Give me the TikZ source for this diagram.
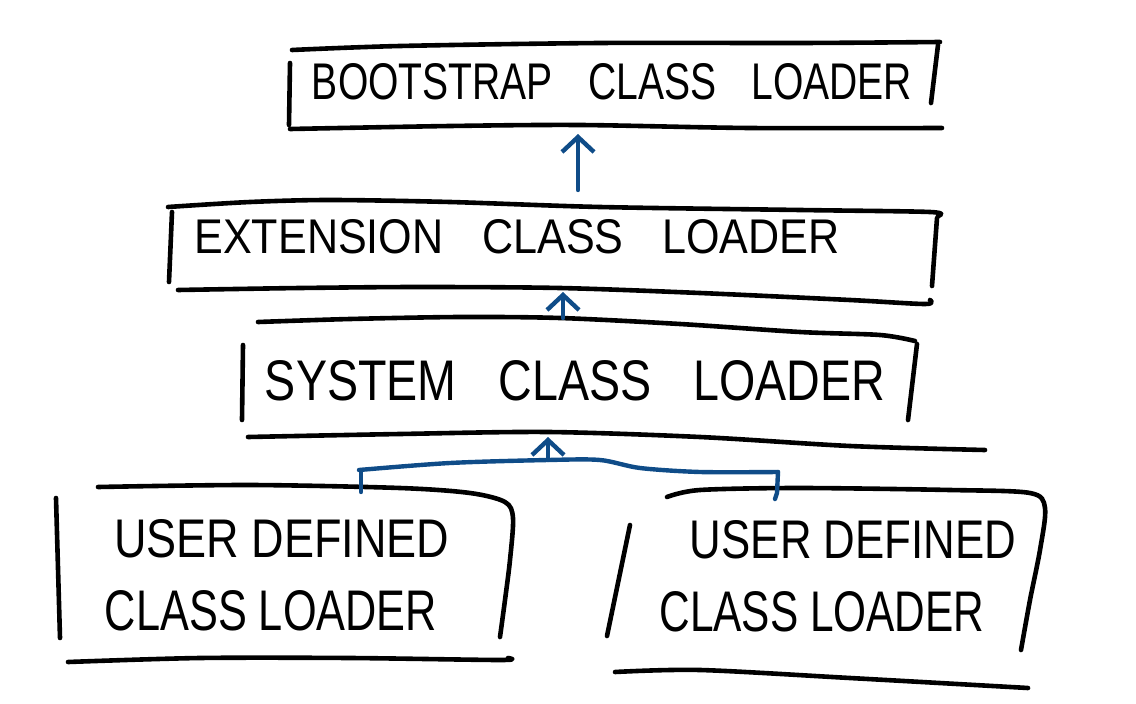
\documentclass[tikz,border=0pt]{standalone}
\usepackage{fontspec}
\setmainfont{Liberation Sans}
\usetikzlibrary{arrows.meta}
\definecolor{inkblue}{HTML}{0F4C88}
\tikzset{
  pen/.style={line width=4.6pt, line cap=round, line join=round, black},
  bluepen/.style={line width=4.4pt, line cap=round, line join=round, inkblue},
  uparrow/.style={bluepen, -{Straight Barb[length=15pt,width=32pt]}},
  lbl/.style={inner sep=0pt, text=black}
}
\newcommand{\fitlbl}[3]{\resizebox{#1pt}{#2pt}{#3}}
\newcommand{\gap}{\hspace{0.9em}}
\begin{document}
\begin{tikzpicture}[x=1pt,y=-1pt]
\useasboundingbox (0,0) rectangle (1136,704);

% ---- Box 1: bootstrap
\draw[pen] plot[smooth] coordinates {(292,50) (400,46) (600,43) (800,43) (940,42)};
\draw[pen] (290,63) -- (289,125);
\draw[pen] (938,45) -- (931,103);
\draw[pen] plot[smooth] coordinates {(290,129) (450,126) (580,125) (750,128) (942,128)};
\node[lbl] (boot) at (612,82) {\fitlbl{600}{36}{BOOTSTRAP\gap CLASS\gap LOADER}};
\coordinate (bootB) at (578,134);

% ---- Box 2: extension
\draw[pen] plot[smooth] coordinates {(168,207) (250,202) (330,200) (450,202) (600,207) (800,210) (930,212) (938,216)};
\draw[pen] (172,212) -- (169,282);
\draw[pen] (937,218) -- (932,286);
\draw[pen] plot[smooth] coordinates {(178,290) (300,288) (420,287) (560,288) (700,293) (850,300) (925,304) (930,300)};
\node[lbl] (ext) at (517,237) {\fitlbl{645}{34}{EXTENSION\gap CLASS\gap LOADER}};
\coordinate (extT) at (578,190);
\coordinate (extB) at (563,292);

% ---- Box 3: system
\draw[pen] plot[smooth] coordinates {(258,322) (350,319) (460,317) (560,318) (680,324) (800,332) (880,335) (915,341)};
\draw[pen] (917,344) -- (908,420);
\draw[pen] (243,345) -- (242,420);
\draw[pen] plot[smooth] coordinates {(248,437) (400,434) (548,432) (700,437) (850,446) (985,450)};
\node[lbl] (sys) at (575,381) {\fitlbl{620}{40}{SYSTEM\gap CLASS\gap LOADER}};
\coordinate (sysT) at (563,318);
\coordinate (sysB) at (548,437);

% ---- Box 4: user defined (left)
\draw[pen] plot[smooth] coordinates {(98,487) (250,485) (400,488) (470,493) (505,502) (513,518) (510,560) (505,600) (500,637)};
\draw[pen] (56,498) -- (60,638);
\draw[pen] plot[smooth] coordinates {(68,662) (200,658) (350,658) (500,660) (508,658)};
\node[lbl] (u1a) at (282,539) {\fitlbl{335}{38}{USER DEFINED}};
\node[lbl] (u1b) at (271,611) {\fitlbl{332}{40}{CLASS LOADER}};
\coordinate (u1T) at (361,492);

% ---- Box 5: user defined (right)
\draw[pen] plot[smooth] coordinates {(667,497) (700,490) (800,488) (950,490) (1030,493) (1045,508) (1040,550) (1030,600) (1021,650)};
\draw[pen] (630,525) -- (607,636);
\draw[pen] plot[smooth] coordinates {(615,672) (700,670) (850,678) (1028,688)};
\node[lbl] (u2a) at (853,540) {\fitlbl{326}{38}{USER DEFINED}};
\node[lbl] (u2b) at (822,612) {\fitlbl{325}{40}{CLASS LOADER}};
\coordinate (u2T) at (775,499);

% ---- Connectors
\draw[uparrow] (extT) -- (bootB);
\draw[uparrow] (sysT) -- (extB);
\coordinate (join) at (548,460);
\coordinate (jl) at (359,470);
\coordinate (jr) at (778,472);
\draw[bluepen] plot[smooth] coordinates {(jl) (450,463) (join) (600,460) (640,468) (700,472) (jr)};
\draw[bluepen] (jl) ++(2,0) -- (u1T);
\draw[bluepen] (jr) -- (777,493) -- (u2T);
\draw[uparrow] (join) -- (sysB);
\end{tikzpicture}
\end{document}
